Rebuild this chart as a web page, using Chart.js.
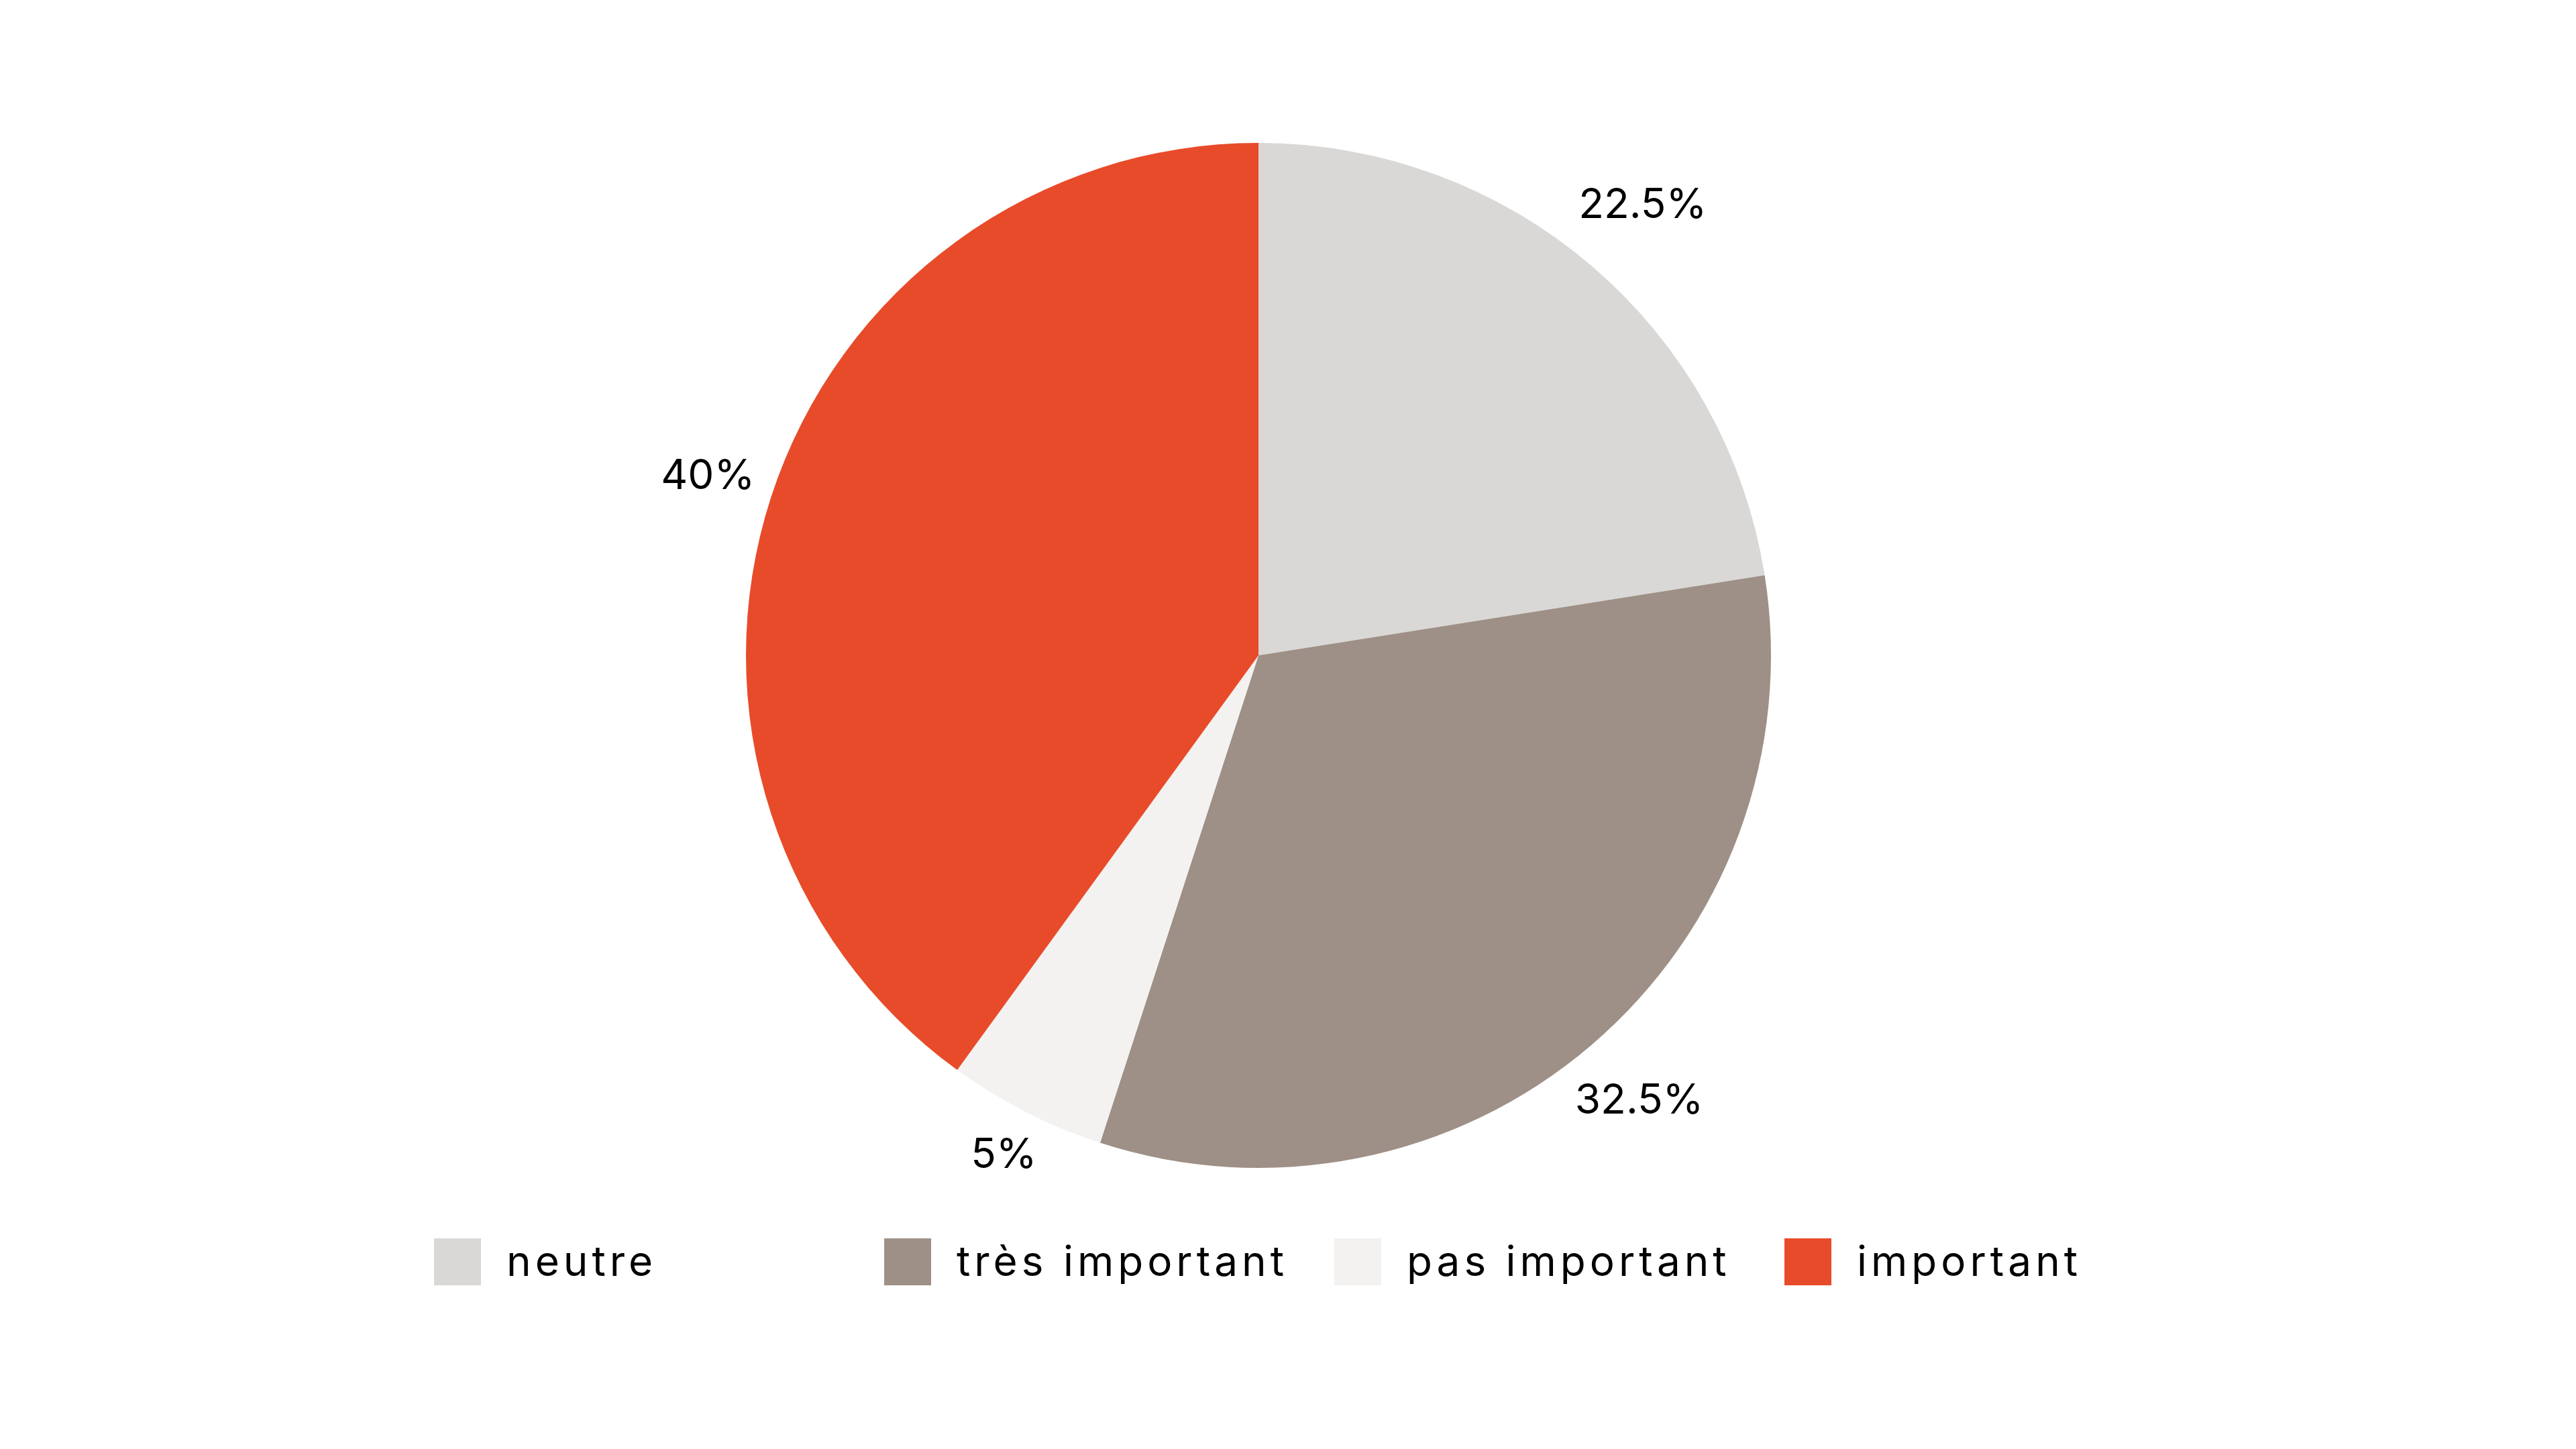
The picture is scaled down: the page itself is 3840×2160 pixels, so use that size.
<!DOCTYPE html>
<html>
<head>
<meta charset="utf-8">
<style>
  html, body { margin: 0; padding: 0; background: #ffffff; }
  #wrap { width: 3840px; height: 2160px; }
</style>
<script src="https://cdn.jsdelivr.net/npm/chart.js@4"></script>
</head>
<body>
<div id="wrap"><canvas id="c" width="3840" height="2160"></canvas></div>
<script>
const categories = ["neutre", "très important", "pas important", "important"];
const values = [22.5, 32.5, 5, 40];
const valueLabels = ["22.5%", "32.5%", "5%", "40%"];
const colors = ["#d9d8d6", "#9e9086", "#f3f2f0", "#e84b2a"];

const FONT = "Inter, 'Open Sans', sans-serif";

const labelPlugin = {
  id: 'outsideLabels',
  afterDatasetsDraw(chart, args, opts) {
    const ctx = chart.ctx;
    const meta = chart.getDatasetMeta(0);
    ctx.save();
    ctx.font = opts.fontSize + "px " + FONT;
    ctx.fillStyle = "#000000";
    ctx.textAlign = "center";
    ctx.textBaseline = "middle";
    meta.data.forEach((arc, i) => {
      const p = arc.getProps(['x', 'y', 'startAngle', 'endAngle', 'outerRadius'], true);
      const mid = (p.startAngle + p.endAngle) / 2;
      const r = p.outerRadius + opts.offset[i];
      const x = p.x + Math.cos(mid) * r;
      const y = p.y + Math.sin(mid) * r;
      ctx.fillText(valueLabels[i], x, y);
    });
    ctx.restore();
  }
};

const legendPlugin = {
  id: 'gridLegend',
  afterDraw(chart, args, opts) {
    const ctx = chart.ctx;
    ctx.save();
    ctx.font = opts.fontSize + "px " + FONT;
    if ('letterSpacing' in ctx) ctx.letterSpacing = opts.spacing + "px";
    ctx.textAlign = "left";
    ctx.textBaseline = "middle";
    const labels = chart.data.labels;
    const bg = chart.data.datasets[0].backgroundColor;
    labels.forEach((lab, i) => {
      const x = opts.left + i * opts.colWidth;
      ctx.fillStyle = bg[i];
      ctx.fillRect(x, opts.centerY - opts.box / 2, opts.box, opts.box);
      ctx.fillStyle = "#000000";
      ctx.fillText(lab, x + opts.box + opts.gap, opts.centerY + 2);
    });
    ctx.restore();
  }
};

new Chart(document.getElementById('c'), {
  type: 'pie',
  data: {
    labels: categories,
    datasets: [{
      data: values,
      backgroundColor: colors,
      borderWidth: 0,
      hoverOffset: 0
    }]
  },
  options: {
    responsive: false,
    devicePixelRatio: 1,
    animation: false,
    layout: { padding: { top: 213, bottom: 419, left: 0, right: 88 } },
    plugins: {
      legend: { display: false },
      tooltip: { enabled: false },
      outsideLabels: {
        fontSize: 62,
        offset: [118, 110, 72, 99]
      },
      gridLegend: {
        fontSize: 62,
        spacing: 6,
        left: 647,
        colWidth: 671,
        box: 70,
        gap: 38,
        centerY: 1881
      }
    }
  },
  plugins: [labelPlugin, legendPlugin]
});
</script>
</body>
</html>
